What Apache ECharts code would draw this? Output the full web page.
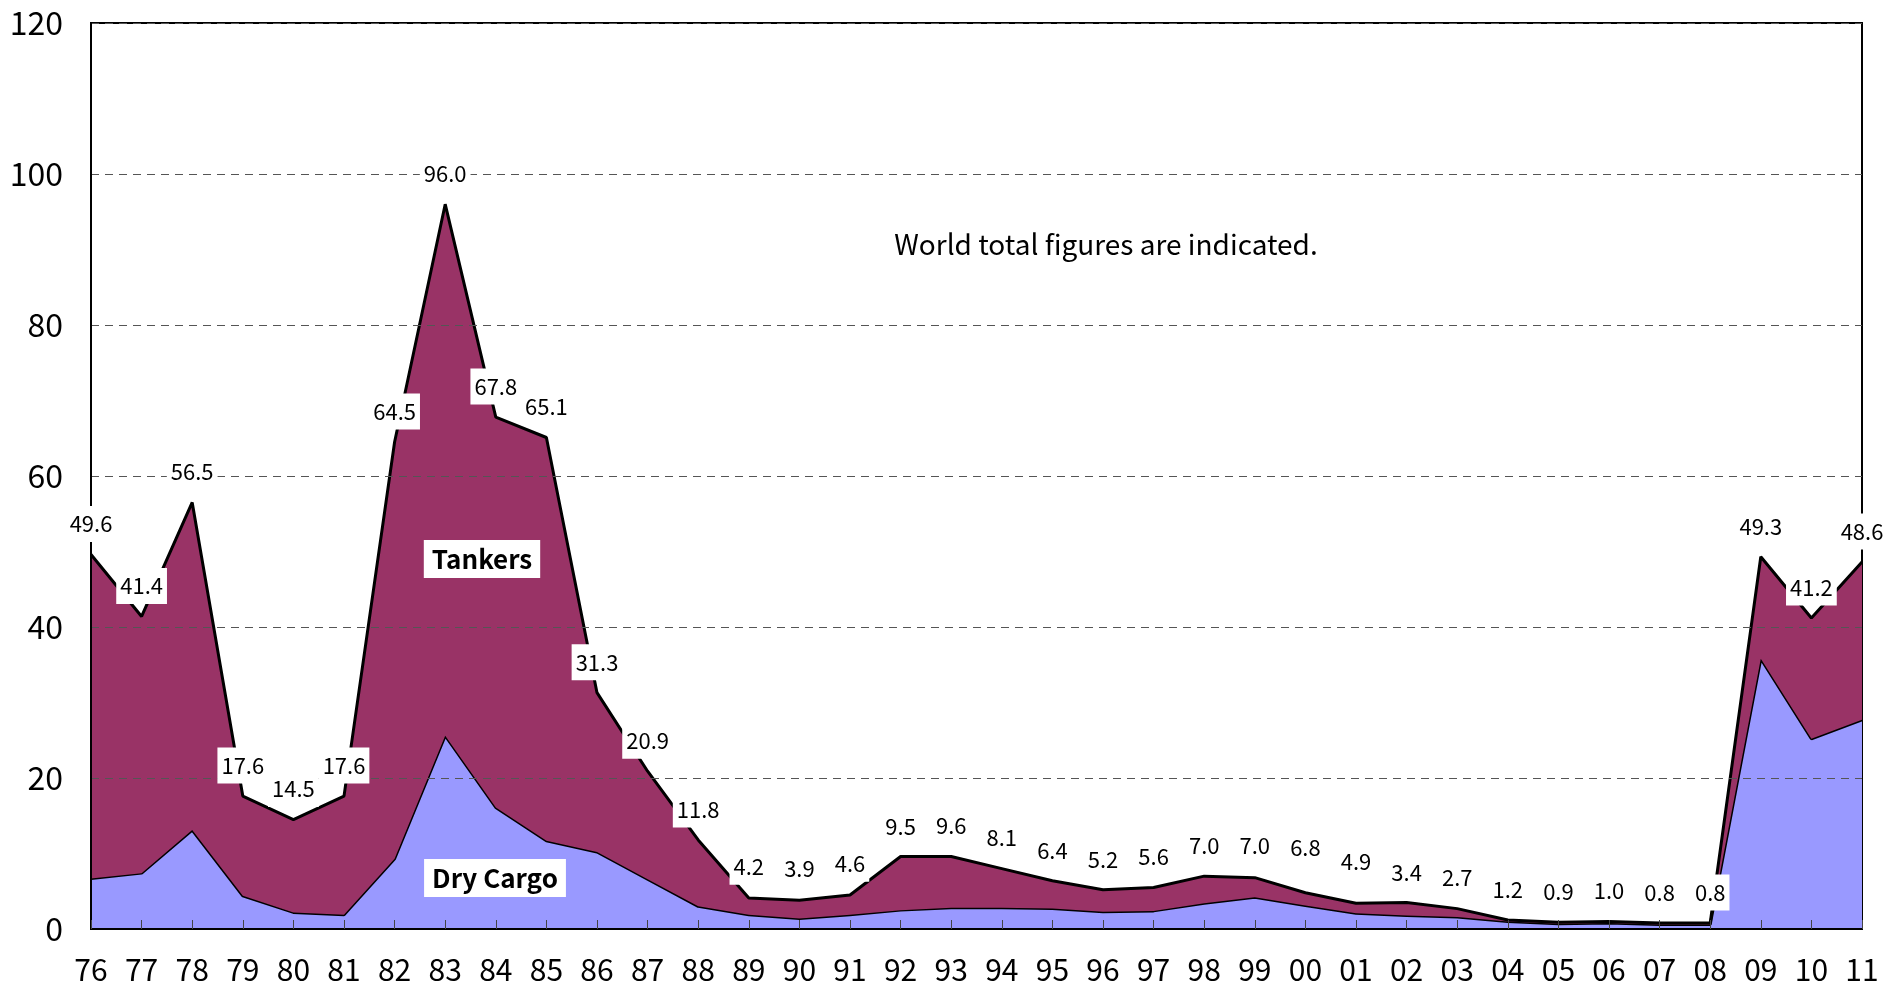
<!DOCTYPE html>
<html>
<head>
<meta charset="utf-8">
<style>
html,body{margin:0;padding:0;background:#fff;}
#chart{width:1903px;height:989px;}
</style>
<script src="https://cdn.jsdelivr.net/npm/echarts@6/dist/echarts.min.js"></script>
</head>
<body>
<div id="chart"></div>
<script>
var years = ['76','77','78','79','80','81','82','83','84','85','86','87','88','89','90','91','92','93','94','95','96','97','98','99','00','01','02','03','04','05','06','07','08','09','10','11'];
var dryCargo = [6.7,7.4,13.1,4.4,2.2,1.9,9.3,25.6,16.1,11.7,10.2,6.6,3.0,1.9,1.4,1.9,2.5,2.8,2.8,2.7,2.3,2.4,3.4,4.2,3.1,2.1,1.8,1.6,1.0,0.7,0.8,0.6,0.6,35.8,25.2,27.7];
var tankers = [42.9,34.0,43.4,13.2,12.3,15.7,55.2,70.4,51.7,53.4,21.1,14.3,8.8,2.2,2.4,2.6,7.1,6.8,5.2,3.7,2.9,3.1,3.6,2.6,1.7,1.3,1.7,1.1,0.2,0.2,0.2,0.2,0.2,13.5,16.0,20.9];
var worldTotal = [49.6,41.4,56.5,17.6,14.5,17.6,64.5,96.0,67.8,65.1,31.3,20.9,11.8,4.2,3.9,4.6,9.5,9.6,8.1,6.4,5.2,5.6,7.0,7.0,6.8,4.9,3.4,2.7,1.2,0.9,1.0,0.8,0.8,49.3,41.2,48.6];
var yTicks = [0,20,40,60,80,100,120];

var FONT = '"Noto Sans CJK JP", "Noto Sans", sans-serif';
var chart = echarts.init(document.getElementById('chart'));
var option = {
  backgroundColor: '#fff',
  animation: false,
  textStyle: {fontFamily: FONT},
  grid: {left: 91, right: 41, top: 23, bottom: 60, show: true, borderColor: '#000', borderWidth: 2, containLabel: false},
  xAxis: {
    type: 'category',
    data: years,
    boundaryGap: false,
    axisLine: {show: true, lineStyle: {color: '#000', width: 2}},
    axisTick: {show: true, inside: true, length: 9, lineStyle: {color: '#444', width: 1}},
    axisLabel: {color: '#000', fontSize: 30, fontFamily: FONT, margin: 26, interval: 0},
    splitLine: {show: false},
    z: 10
  },
  yAxis: {
    type: 'value',
    min: yTicks[0],
    max: yTicks[yTicks.length - 1],
    interval: 20,
    axisLine: {show: true, lineStyle: {color: '#000', width: 2}},
    axisTick: {show: false},
    axisLabel: {color: '#000', fontSize: 32, fontFamily: FONT, margin: 28},
    splitLine: {show: true, lineStyle: {color: '#555', width: 1, type: [8, 6]}},
    z: 10
  },
  series: [
    {
      name: 'Dry Cargo',
      type: 'line',
      stack: 'total',
      data: dryCargo,
      symbol: 'none',
      lineStyle: {color: '#000', width: 3},
      areaStyle: {color: '#9999FF', opacity: 1},
      z: 2
    },
    {
      name: 'Tankers',
      type: 'line',
      stack: 'total',
      data: tankers,
      symbol: 'none',
      lineStyle: {color: '#000', width: 3},
      areaStyle: {color: '#993366', opacity: 1},
      z: 3
    },
    {
      name: 'World total',
      type: 'scatter',
      data: worldTotal,
      symbolSize: 1,
      itemStyle: {color: 'rgba(0,0,0,0)', opacity: 1},
      emphasis: {disabled: true},
      z: 20,
      label: {
        show: true,
        position: 'top',
        distance: 12,
        formatter: function (p) { return p.value.toFixed(1); },
        color: '#000',
        fontSize: 22,
        lineHeight: 22,
        fontFamily: FONT,
        backgroundColor: '#fff',
        opacity: 1,
        padding: [7, 4, 7, 4]
      }
    }
  ],
  graphic: [
    {
      type: 'text', x: 1106, y: 244, z: 100,
      style: {text: 'World total figures are indicated.', fontSize: 28, fontFamily: FONT, fill: '#000', align: 'center', verticalAlign: 'middle'}
    },
    {
      type: 'text', x: 482, y: 559, z: 100,
      style: {text: 'Tankers', fontSize: 26, fontWeight: 'bold', fontFamily: FONT, fill: '#000', align: 'center', verticalAlign: 'middle', backgroundColor: '#fff', padding: [6, 8, 6, 8]}
    },
    {
      type: 'text', x: 495, y: 878, z: 100,
      style: {text: 'Dry Cargo', fontSize: 26, fontWeight: 'bold', fontFamily: FONT, fill: '#000', align: 'center', verticalAlign: 'middle', backgroundColor: '#fff', padding: [6, 8, 6, 8]}
    }
  ]
};
chart.setOption(option);
</script>
</body>
</html>
